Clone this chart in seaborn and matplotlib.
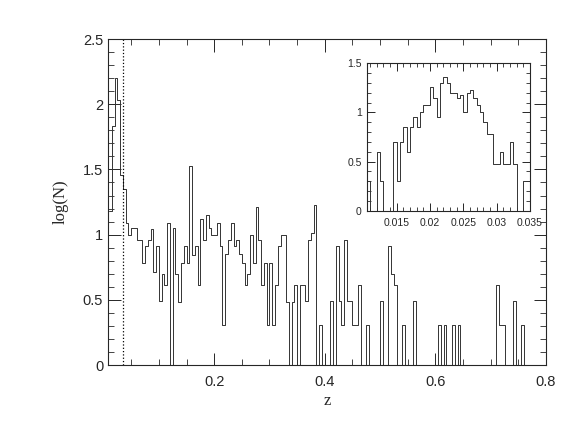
import numpy as np
import pandas as pd
import matplotlib
matplotlib.use("Agg")
import matplotlib.pyplot as plt
from matplotlib.ticker import MultipleLocator
import seaborn as sns

# main histogram: log(N) per bin of dz = 0.005, first bin starts at z = 0.01
main_start = 0.01
main_width = 0.005
main_logN = [
    1.18, 1.83, 2.20, 2.03, 1.46, 1.35, 1.09, 1.00, 1.05, 1.05,
    0.96, 0.96, 0.78, 0.91, 0.96, 1.04, 0.71, 0.91, 0.49, 0.70,
    0.61, 1.09, 0.00, 1.05, 0.70, 0.48, 0.78, 0.91, 0.78, 1.53,
    0.84, 0.91, 0.61, 1.12, 0.96, 1.15, 1.05, 1.00, 1.00, 1.09,
    0.91, 0.31, 0.85, 0.96, 1.09, 0.91, 0.96, 0.85, 0.78, 0.61,
    0.70, 1.00, 0.78, 1.21, 0.96, 0.61, 0.78, 0.31, 0.78, 0.31,
    0.61, 0.91, 1.00, 1.00, 0.48, 0.00, 0.48, 0.61, 0.00, 0.61,
    0.61, 0.49, 0.96, 1.01, 1.23, 0.00, 0.31, 0.00, 0.00, 0.00,
    0.49, 0.00, 0.91, 0.49, 0.31, 0.96, 0.49, 0.49, 0.31, 0.31,
    0.61, 0.00, 0.00, 0.31, 0.00, 0.00, 0.00, 0.00, 0.49, 0.00,
    0.00, 0.91, 0.70, 0.61, 0.00, 0.00, 0.31, 0.00, 0.00, 0.00,
    0.49, 0.00, 0.00, 0.00, 0.00, 0.00, 0.00, 0.00, 0.00, 0.31,
    0.00, 0.31, 0.00, 0.00, 0.31, 0.00, 0.31, 0.00, 0.00, 0.00,
    0.00, 0.00, 0.00, 0.00, 0.00, 0.00, 0.00, 0.00, 0.00, 0.00,
    0.61, 0.31, 0.31, 0.00, 0.00, 0.00, 0.49, 0.00, 0.00, 0.31,
    0.00,
]

# inset: zoom on the low-z peak, bins of dz = 0.0005 from z = 0.0105
inset_start = 0.0105
inset_width = 0.0005
inset_logN = [
    0.30, 0.00, 0.00, 0.60, 0.30, 0.00, 0.00, 0.00, 0.70, 0.30,
    0.70, 0.85, 0.60, 0.85, 0.95, 0.85, 1.00, 1.08, 1.08, 1.26,
    1.15, 0.95, 1.30, 1.36, 1.30, 1.20, 1.20, 1.15, 1.18, 1.00,
    1.20, 1.23, 1.15, 1.08, 1.00, 0.90, 0.78, 0.78, 0.48, 0.48,
    0.60, 0.48, 0.48, 0.70, 0.48, 0.00, 0.00, 0.30, 0.30,
]

z_cut = 0.035

sns.set_style("ticks")
plt.rcParams['font.family'] = ['Liberation Sans', 'DejaVu Sans']
plt.rcParams['xtick.direction'] = 'in'
plt.rcParams['ytick.direction'] = 'in'
plt.rcParams['xtick.top'] = True
plt.rcParams['ytick.right'] = True


def step_hist(ax, start, width, values, lw):
    edges = start + width * np.arange(len(values) + 1)
    df = pd.DataFrame({'z': 0.5 * (edges[:-1] + edges[1:]), 'logN': values})
    # bins passed as a list: seaborn 0.13 compares bins to "auto"
    sns.histplot(data=df, x='z', weights='logN', bins=edges.tolist(), element="step",
                 fill=False, color="0.2", linewidth=lw, ax=ax)


def style_axes(ax, size, major_len, minor_len):
    for s in ax.spines.values():
        s.set_linewidth(0.8)
    ax.tick_params(which='major', length=major_len, width=0.7, labelsize=size)
    ax.tick_params(which='minor', length=minor_len, width=0.6)
    ax.set_xlabel('')
    ax.set_ylabel('')


fig = plt.figure(figsize=(5.64, 4.36), dpi=100)

# main panel
ax = fig.add_axes([0.1915, 0.1628, 0.7766, 0.7477])
step_hist(ax, main_start, main_width, main_logN, 0.7)
ax.axvline(z_cut, color='black', linestyle=':', linewidth=0.9)
ax.set_xlim(0.008, 0.8)
ax.set_ylim(0, 2.5)
ax.xaxis.set_major_locator(MultipleLocator(0.2))
ax.xaxis.set_minor_locator(MultipleLocator(0.05))
ax.yaxis.set_major_locator(MultipleLocator(0.5))
ax.yaxis.set_minor_locator(MultipleLocator(0.1))
ax.set_xticks([0.2, 0.4, 0.6, 0.8])
ax.set_xticklabels(['0.2', '0.4', '0.6', '0.8'])
ax.set_yticks([0, 0.5, 1, 1.5, 2, 2.5])
ax.set_yticklabels(['0', '0.5', '1', '1.5', '2', '2.5'])
style_axes(ax, 10.5, 9, 4.5)
ax.tick_params(axis='x', pad=7)
ax.set_xlabel('z', family=['Liberation Serif', 'DejaVu Serif'], fontsize=12, labelpad=3)
ax.set_ylabel('log(N)', family=['Liberation Serif', 'DejaVu Serif'], fontsize=12, labelpad=10)

# inset panel
axi = fig.add_axes([0.6502, 0.5167, 0.2895, 0.3381])
step_hist(axi, inset_start, inset_width, inset_logN, 0.7)
axi.set_xlim(0.0105, 0.035)
axi.set_ylim(0, 1.5)
axi.xaxis.set_major_locator(MultipleLocator(0.005))
axi.xaxis.set_minor_locator(MultipleLocator(0.001))
axi.yaxis.set_major_locator(MultipleLocator(0.5))
axi.yaxis.set_minor_locator(MultipleLocator(0.1))
axi.set_xticks([0.015, 0.02, 0.025, 0.03, 0.035])
axi.set_xticklabels(['0.015', '0.02', '0.025', '0.03', '0.035'])
axi.set_yticks([0, 0.5, 1, 1.5])
axi.set_yticklabels(['0', '0.5', '1', '1.5'])
style_axes(axi, 7.5, 6, 3)
axi.tick_params(axis='x', pad=5)

fig.savefig('out.png', dpi=100)
